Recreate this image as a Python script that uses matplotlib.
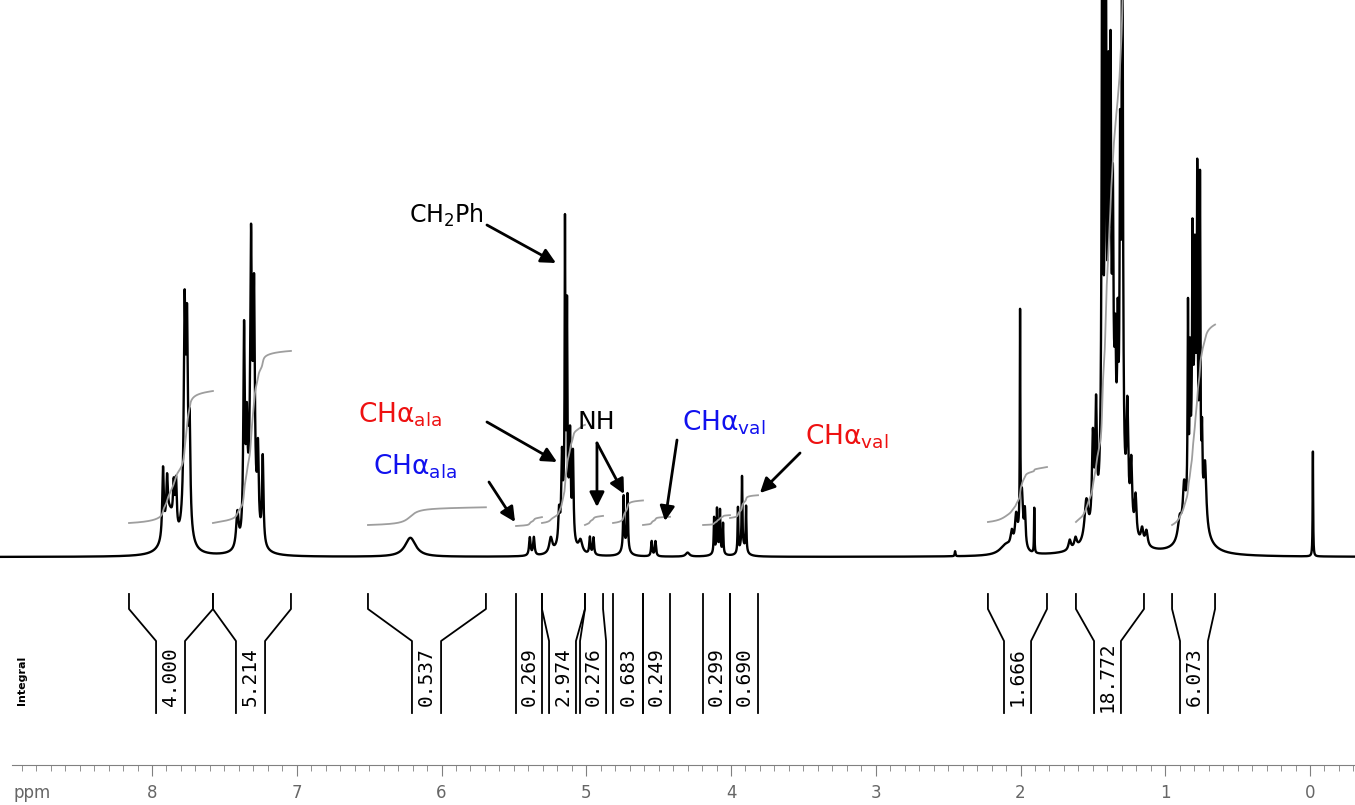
import matplotlib.pyplot as plt
import numpy as np
from matplotlib.ticker import MultipleLocator

# peaks of the 1H spectrum: centre (ppm), height, line width (ppm)
peak_ppm = [7.924, 7.896, 7.850, 7.834, 7.88, 7.775, 7.758, 7.740, 7.765,
            7.410, 7.364, 7.345, 7.316, 7.295, 7.268, 7.235, 7.31,
            6.215,
            5.390, 5.362, 5.245,
            5.188, 5.168, 5.147, 5.133, 5.112, 5.092, 5.14, 5.04,
            4.975, 4.950,
            4.742, 4.715, 4.73,
            4.548, 4.522, 4.300,
            4.117, 4.097, 4.076, 4.055, 4.09,
            3.952, 3.924, 3.896, 3.92,
            2.452,
            2.10, 2.06, 2.03, 2.003, 1.99, 1.97, 2.00, 1.905,
            1.660, 1.620, 1.545, 1.500, 1.478, 1.435, 1.412, 1.392, 1.378,
            1.362, 1.345, 1.328, 1.312, 1.297, 1.262, 1.235, 1.205, 1.160,
            1.130, 1.37,
            0.900, 0.870, 0.843, 0.829, 0.812, 0.795, 0.779, 0.760, 0.746,
            0.725, 0.795,
            -0.020]
peak_height = [68, 42, 40, 48, 40, 170, 140, 90, 90,
               35, 205, 92, 224, 192, 78, 87, 90,
               19,
               18, 18, 15,
               30, 70, 265, 180, 90, 85, 70, 12,
               17, 17,
               52, 55, 10,
               15, 15, 4,
               35, 40, 40, 30, 8,
               45, 70, 45, 10,
               5,
               10, 15, 30, 210, 40, 35, 20, 45,
               10, 10, 40, 90, 110, 600, 650, 300, 320,
               200, 80, 120, 300, 650, 110, 65, 40, 15,
               15, 150,
               20, 40, 190, 120, 200, 150, 255, 295, 60,
               60, 150,
               105]
peak_width = [0.012, 0.012, 0.012, 0.012, 0.08, 0.012, 0.012, 0.012, 0.04,
              0.020, 0.012, 0.012, 0.012, 0.012, 0.012, 0.012, 0.05,
              0.09,
              0.012, 0.012, 0.025,
              0.012, 0.010, 0.005, 0.005, 0.010, 0.010, 0.05, 0.03,
              0.010, 0.010,
              0.008, 0.008, 0.05,
              0.010, 0.010, 0.03,
              0.006, 0.006, 0.006, 0.006, 0.05,
              0.006, 0.006, 0.006, 0.05,
              0.006,
              0.10, 0.020, 0.020, 0.004, 0.015, 0.012, 0.04, 0.004,
              0.020, 0.020, 0.030, 0.015, 0.012, 0.010, 0.010, 0.008, 0.008,
              0.008, 0.008, 0.008, 0.008, 0.010, 0.015, 0.015, 0.015, 0.020,
              0.020, 0.10,
              0.030, 0.020, 0.006, 0.006, 0.006, 0.006, 0.006, 0.006, 0.006,
              0.020, 0.07,
              0.004]

# integral regions: value, outer bounds (top) and inner bounds (bottom) in ppm
integral_values = [4.000, 5.214, 0.537, 0.269, 2.974, 0.276, 0.683, 0.249,
                   0.299, 0.690, 1.666, 18.772, 6.073]
outer_left = [8.159, 7.579, 6.508, 5.485, 5.306, 5.009, 4.815, 4.608,
              4.193, 4.007, 2.225, 1.617, 0.953]
outer_right = [7.579, 7.040, 5.693, 5.306, 5.009, 4.884, 4.608, 4.421,
               4.007, 3.813, 1.817, 1.147, 0.656]
inner_left = [7.972, 7.420, 6.204, 5.485, 5.257, 5.043, 4.815, 4.608,
              4.193, 4.007, 2.114, 1.492, 0.898]
inner_right = [7.772, 7.219, 6.003, 5.306, 5.071, 4.863, 4.608, 4.421,
               4.007, 3.813, 1.927, 1.306, 0.705]
integral_start = [34, 34, 32, 31, 34, 32, 34, 32, 32, 39, 35, 35, 32]
px_per_unit = 33

ppm = np.linspace(9.06, -0.32, 40000)
spec = np.zeros_like(ppm)
for c, h, w in zip(peak_ppm, peak_height, peak_width):
    spec += h / (1 + ((ppm - c) / (w / 2)) ** 2)

fig = plt.figure(figsize=(13.55, 8.05), dpi=100)
ax = fig.add_axes([0, 0, 1, 1])
ax.set_xlim(1310 / 144.75, (1310 - 1355) / 144.75)
ax.set_ylim(557 - 805, 557)
ax.axis('off')

ax.plot(ppm, spec, color='black', lw=1.7)

# integral curves and brackets
top, y1, y2, bottom = -37, -52, -84, -156
for i, v in enumerate(integral_values):
    m = (ppm <= outer_left[i]) & (ppm >= outer_right[i])
    cum = np.cumsum(spec[m])
    cum = cum / cum[-1]
    ax.plot(ppm[m], integral_start[i] + v * px_per_unit * cum, color='0.62', lw=1.3)
    ax.plot([outer_left[i], outer_left[i], inner_left[i], inner_left[i]],
            [top, y1, y2, bottom], color='black', lw=1.3)
    ax.plot([outer_right[i], outer_right[i], inner_right[i], inner_right[i]],
            [top, y1, y2, bottom], color='black', lw=1.3)
    ax.text((inner_left[i] + inner_right[i]) / 2, -120, f'{v:.3f}', rotation=90,
            ha='center', va='center', fontsize=14, family='DejaVu Sans Mono')
ax.text(8.898, -123, 'Integral', rotation=90, ha='center', va='center',
        fontsize=8, fontweight='bold')

# labels and arrows
arrow = dict(arrowstyle='-|>', color='black', lw=2, mutation_scale=22,
             shrinkA=0, shrinkB=0)
ax.text(5.706, 342, r'CH$\mathregular{_2}$Ph', ha='right', va='center',
        fontsize=17, color='black')
ax.annotate('', xy=(5.209, 294), xytext=(5.686, 332), arrowprops=arrow)
ax.text(6.577, 142, r'CH$\mathregular{\alpha_{ala}}$', ha='left', va='center',
        fontsize=19, color='#ee1111')
ax.annotate('', xy=(5.202, 95), xytext=(5.686, 135), arrowprops=arrow)
ax.text(6.473, 90, r'CH$\mathregular{\alpha_{ala}}$', ha='left', va='center',
        fontsize=19, color='#1111ee')
ax.annotate('', xy=(5.492, 35), xytext=(5.672, 75), arrowprops=arrow)
ax.text(5.057, 135, 'NH', ha='left', va='center', fontsize=18, color='black')
ax.annotate('', xy=(4.926, 50), xytext=(4.926, 114), arrowprops=arrow)
ax.annotate('', xy=(4.739, 63), xytext=(4.926, 114), arrowprops=arrow)
ax.text(4.339, 134, r'CH$\mathregular{\alpha_{val}}$', ha='left', va='center',
        fontsize=19, color='#1111ee')
ax.annotate('', xy=(4.456, 36), xytext=(4.373, 117), arrowprops=arrow)
ax.text(3.489, 120, r'CH$\mathregular{\alpha_{val}}$', ha='left', va='center',
        fontsize=19, color='#ee1111')
ax.annotate('', xy=(3.800, 64), xytext=(3.523, 104), arrowprops=arrow)

# ppm ruler
ax2 = fig.add_axes([12 / 1355, 40 / 805, 1 - 12 / 1355, 0.0001])
ax2.set_xlim((1310 - 12) / 144.75, (1310 - 1355) / 144.75)
ax2.set_yticks([])
for s in ['top', 'left', 'right']:
    ax2.spines[s].set_visible(False)
ax2.spines['bottom'].set_color('0.5')
ax2.xaxis.set_major_locator(MultipleLocator(1))
ax2.xaxis.set_minor_locator(MultipleLocator(0.1))
ax2.tick_params(axis='x', which='major', length=8, color='0.5', labelcolor='0.4',
                labelsize=12, pad=6)
ax2.tick_params(axis='x', which='minor', length=4, color='0.5')
ax2.set_xticklabels([f'{t:g}' for t in ax2.get_xticks()])
ax.text(8.955, -236, 'ppm', ha='left', va='center', fontsize=12, color='0.4')

plt.savefig('out.png', dpi=100)
